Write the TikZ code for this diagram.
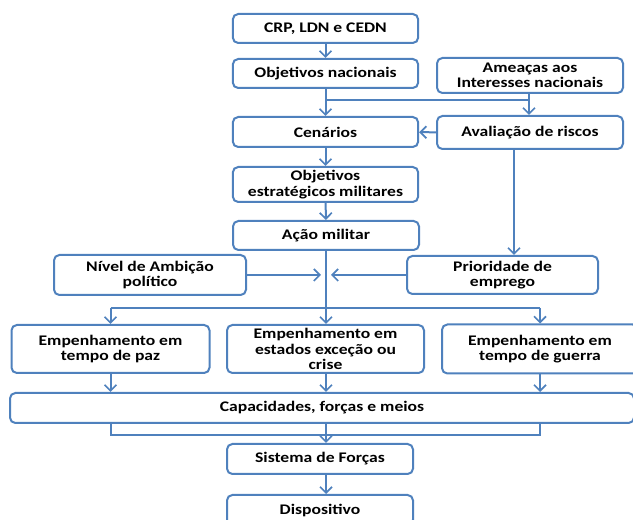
\documentclass[tikz,border=0pt]{standalone}
\usepackage{fontspec}
\setmainfont{Carlito}[FakeStretch=1.2]
\usetikzlibrary{arrows.meta}

\definecolor{lineblue}{RGB}{79,129,189}

\tikzset{
  box/.style={draw=lineblue, line width=1.5pt, rounded corners=4pt, fill=white,
    align=center, inner sep=1pt, font=\fontsize{11}{11.5}\selectfont\bfseries},
  link/.style={draw=lineblue, line width=1.5pt},
  arr/.style={link, -{Straight Barb[length=4.5pt,width=9pt,line width=1.3pt]}}
}

\begin{document}
\begin{tikzpicture}[x=0.75pt,y=0.75pt,yscale=-1,xscale=1]
\useasboundingbox (0,0) rectangle (633,520);

% Boxes
\node[box, minimum width=139pt, minimum height=21.75pt] (crp) at (325.5,28.5) {CRP, LDN e CEDN};
\node[box, minimum width=139pt, minimum height=21.75pt] (objn) at (325.5,73.5) {Objetivos nacionais};
\node[box, minimum width=139.5pt, minimum height=26.25pt] (amea) at (530,75.5) {Ameaças aos\\Interesses nacionais};
\node[box, minimum width=139pt, minimum height=22.5pt] (cen) at (325.5,132) {Cenários};
\node[box, minimum width=139.5pt, minimum height=24.75pt] (aval) at (530,132.5) {Avaliação de riscos};
\node[box, minimum width=139pt, minimum height=26.25pt] (objest) at (325.5,184.5) {Objetivos\\estratégicos militares};
\node[box, minimum width=139.5pt, minimum height=21.75pt] (acao) at (326,235.5) {Ação militar};
\node[box, minimum width=144pt, minimum height=30pt] (nivel) at (150,275) {Nível de Ambição\\político};
\node[box, minimum width=143.25pt, minimum height=28.5pt] (prior) at (502.5,275) {Prioridade de\\emprego};
\node[box, minimum width=148.5pt, minimum height=36pt] (paz) at (110.5,349) {Empenhamento em\\tempo de paz};
\node[box, minimum width=147.75pt, minimum height=36pt] (exc) at (325.5,349) {Empenhamento em\\estados exceção ou\\crise};
\node[box, minimum width=147pt, minimum height=36.75pt] (guerra) at (540,349) {Empenhamento em\\tempo de guerra};
\node[box, minimum width=468pt, minimum height=22.5pt] (cap) at (322,408) {Capacidades, forças e meios};
\node[box, minimum width=139.5pt, minimum height=22.5pt] (sist) at (320,459) {Sistema de Forças};
\node[box, minimum width=139.5pt, minimum height=22.5pt] (disp) at (320,510) {Dispositivo};

% Junction points
\coordinate (split) at (529,100);
\coordinate (drop) at (514,149);
\coordinate (ml) at (321,275);
\coordinate (mr) at (331,275);
\coordinate (fork) at (326,308);
\coordinate (gather) at (326,435);

% Connectors
\draw[arr] (crp) -- (objn);
\draw[arr] (objn) -- (cen);
\draw[link] (objn.south |- split) -- (split);
\draw[arr] (amea.south -| split) -- (aval.north -| split);
\draw[arr] (aval) -- (cen);
\draw[arr] (drop |- aval.south) -- (drop |- prior.north);
\draw[arr] (cen) -- (objest);
\draw[arr] (objest) -- (acao);
\draw[arr] (acao.south -| fork) -- (exc.north -| fork);
\draw[arr] (nivel) -- (ml);
\draw[arr] (prior) -- (mr);
\draw[arr] (paz.north |- fork) -- (paz.north);
\draw[link] (paz.north |- fork) -- (guerra.north |- fork);
\draw[arr] (guerra.north |- fork) -- (guerra.north);
\draw[arr] (paz.south) -- (paz.south |- cap.north);
\draw[arr] (exc.south -| fork) -- (cap.north -| fork);
\draw[arr] (guerra.south) -- (guerra.south |- cap.north);
\draw[link] (paz.south |- cap.south) -- (paz.south |- gather) -- (guerra.south |- gather) -- (guerra.south |- cap.south);
\draw[arr] (cap.south -| gather) -- (sist.north -| gather);
\draw[arr] (sist.south -| gather) -- (disp.north -| gather);

\end{tikzpicture}
\end{document}
